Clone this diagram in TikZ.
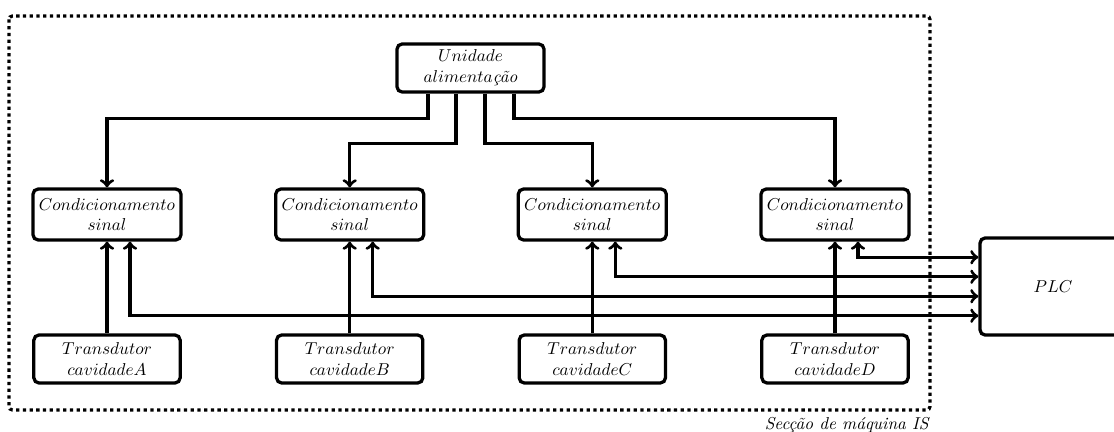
\documentclass[tikz,border=0pt]{standalone}
\usetikzlibrary{calc}
\begin{document}
\begin{tikzpicture}[x=0.581pt,y=-0.581pt,
  blk/.style={draw,line width=1.9pt,rounded corners=3pt,align=center,inner sep=2pt,minimum width=86pt},
  cond/.style={blk,minimum height=29.6pt},
  trans/.style={blk,minimum width=85pt,minimum height=27.9pt},
  link/.style={line width=1.9pt,->},
  twoway/.style={line width=1.9pt,<->},
  frame/.style={line width=1.9pt,dotted,rounded corners=2pt},
]
\useasboundingbox (0,0) rectangle (1114,432);

% machine section frame
\draw[frame] (9,16) rectangle (930,410);
\node[anchor=base east,inner sep=0pt] (sec) at (930,429) {\textit{Secção de máquina IS}};

% power supply
\node[blk,minimum width=85.4pt,minimum height=27.9pt] (U) at (470.5,68) {$Unidade$\\$alimenta$\textit{ção}};

% signal conditioning
\node[cond] (c1) at (107,214.5) {$Condicionamento$\\$sinal$};
\node[cond] (c2) at (349.7,214.5) {$Condicionamento$\\$sinal$};
\node[cond] (c3) at (592.3,214.5) {$Condicionamento$\\$sinal$};
\node[cond] (c4) at (835,214.5) {$Condicionamento$\\$sinal$};

% transducers
\node[trans] (t1) at (107,359) {$Transdutor$\\$cavidadeA$};
\node[trans] (t2) at (349.7,359) {$Transdutor$\\$cavidadeB$};
\node[trans] (t3) at (592.3,359) {$Transdutor$\\$cavidadeC$};
\node[trans] (t4) at (835,359) {$Transdutor$\\$cavidadeD$};

% PLC
\node[blk,minimum width=84.8pt,minimum height=56.4pt] (plc) at (1053,286.5) {$PLC$};

% supply lines
\draw[link] ($(U.south)+(-42.5,0)$) -- ++(0,25) -| (c1.north);
\draw[link] ($(U.south)+(-14.5,0)$) -- ++(0,50) -| (c2.north);
\draw[link] ($(U.south)+(14.5,0)$) -- ++(0,50) -| (c3.north);
\draw[link] ($(U.south)+(43.5,0)$) -- ++(0,25) -| (c4.north);

% transducer signals
\draw[link] (t1.north) -- (c1.south);
\draw[link] (t2.north) -- (c2.south);
\draw[link] (t3.north) -- (c3.south);
\draw[link] (t4.north) -- (c4.south);

% PLC links
\draw[twoway] ($(c1.south)+(23,0)$) |- ($(plc.west)+(0,29.25)$);
\draw[twoway] ($(c2.south)+(23,0)$) |- ($(plc.west)+(0,9.75)$);
\draw[twoway] ($(c3.south)+(23,0)$) |- ($(plc.west)+(0,-9.75)$);
\draw[twoway] ($(c4.south)+(23,0)$) |- ($(plc.west)+(0,-29.25)$);
\end{tikzpicture}
\end{document}
